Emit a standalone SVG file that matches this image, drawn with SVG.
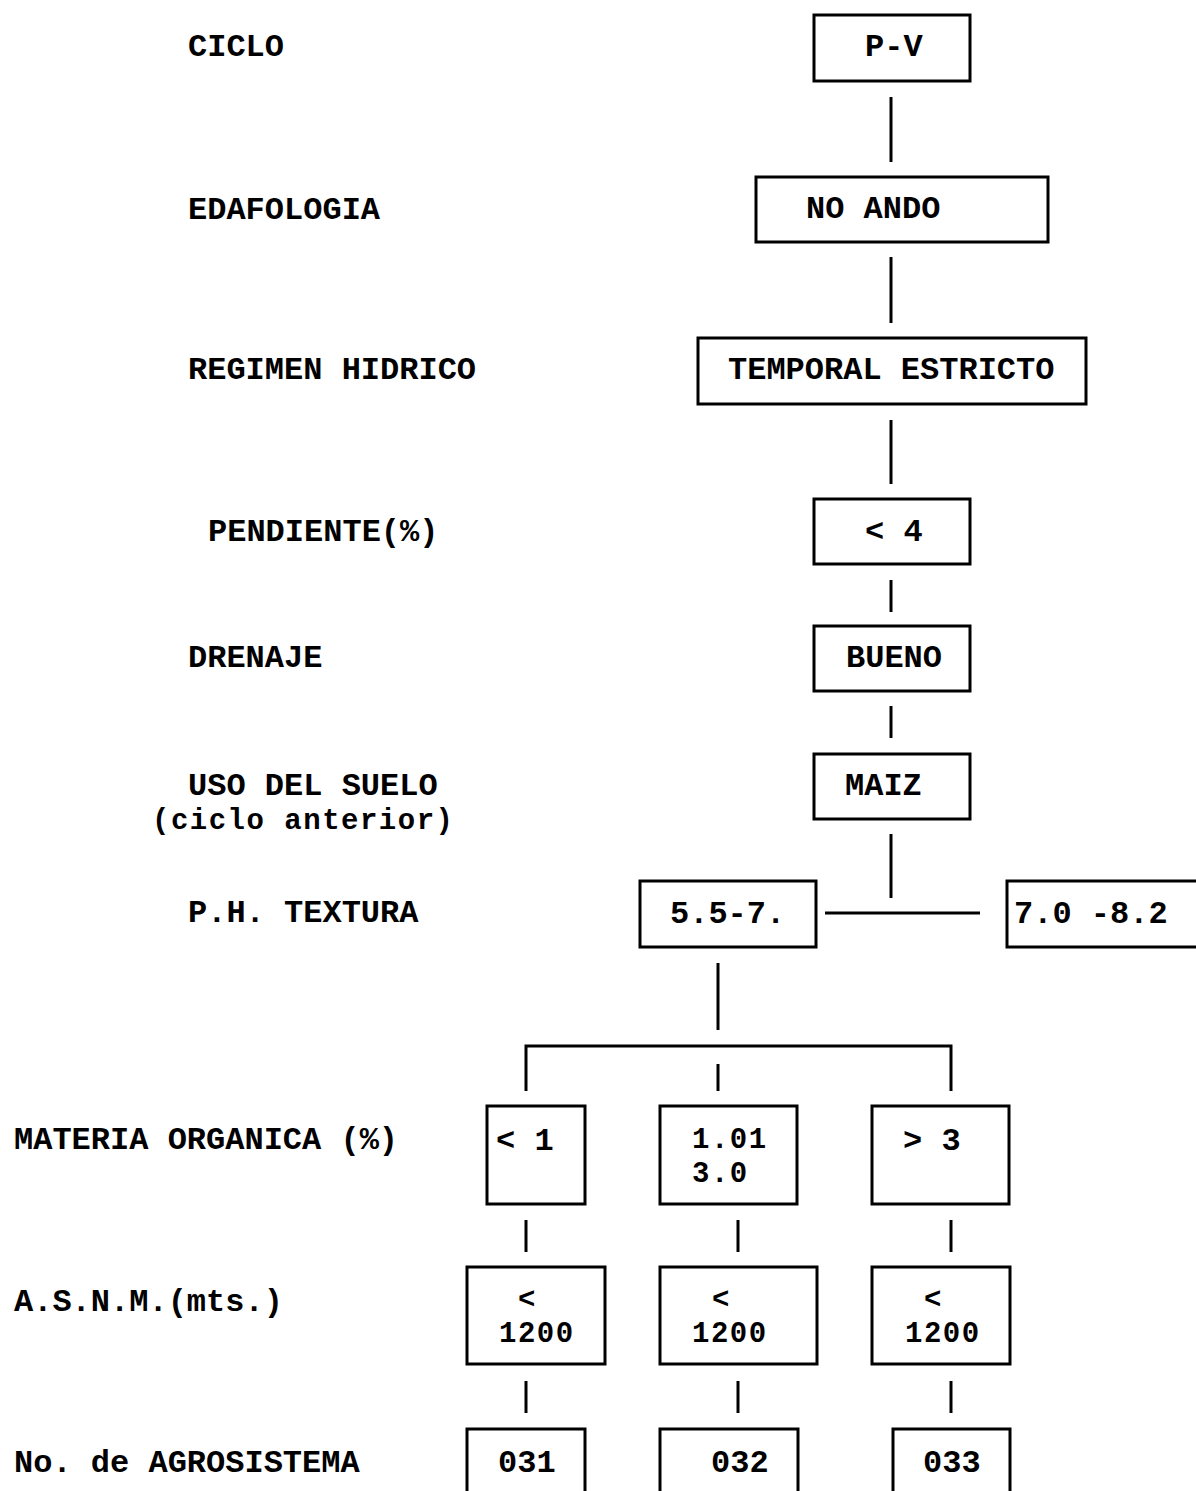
<svg xmlns="http://www.w3.org/2000/svg" width="1196" height="1491" viewBox="0 0 1196 1491">
<style>
.box{fill:none;stroke:#000;stroke-width:3}
.ln{fill:none;stroke:#000;stroke-width:3}
.t{font-family:"Liberation Mono","Courier New",monospace;font-weight:bold;font-size:32px;fill:#000}
.s{font-family:"Liberation Mono","Courier New",monospace;font-weight:bold;font-size:32px;fill:#000}
.m{font-family:"Liberation Mono","Courier New",monospace;font-weight:bold;font-size:29px;letter-spacing:1.5px;fill:#000}
</style>
<rect width="1196" height="1491" fill="#fff"/>
<g id="labels">
<text class="t" x="188" y="56">CICLO</text>
<text class="t" x="188" y="219">EDAFOLOGIA</text>
<text class="t" x="188" y="379">REGIMEN HIDRICO</text>
<text class="t" x="208" y="541">PENDIENTE(%)</text>
<text class="t" x="188" y="667">DRENAJE</text>
<text class="t" x="188" y="795">USO DEL SUELO</text>
<text class="m" x="152" y="829">(ciclo anterior)</text>
<text class="t" x="188" y="922">P.H. TEXTURA</text>
<text class="t" x="14" y="1149">MATERIA ORGANICA (%)</text>
<text class="t" x="14" y="1311">A.S.N.M.(mts.)</text>
<text class="t" x="14" y="1472">No. de AGROSISTEMA</text>
</g>
<g id="connectors">
<line class="ln" x1="891" y1="97" x2="891" y2="162"/>
<line class="ln" x1="891" y1="257" x2="891" y2="323"/>
<line class="ln" x1="891" y1="420" x2="891" y2="484"/>
<line class="ln" x1="891" y1="580" x2="891" y2="612"/>
<line class="ln" x1="891" y1="706" x2="891" y2="738"/>
<line class="ln" x1="891" y1="834" x2="891" y2="898"/>
<line class="ln" x1="825" y1="913" x2="980" y2="913"/>
<line class="ln" x1="718" y1="963" x2="718" y2="1030"/>
<path class="ln" d="M526,1091 V1046 H951 V1091"/>
<line class="ln" x1="718" y1="1064" x2="718" y2="1091"/>
<line class="ln" x1="526" y1="1220" x2="526" y2="1252"/>
<line class="ln" x1="738" y1="1220" x2="738" y2="1252"/>
<line class="ln" x1="951" y1="1220" x2="951" y2="1252"/>
<line class="ln" x1="526" y1="1381" x2="526" y2="1413"/>
<line class="ln" x1="738" y1="1381" x2="738" y2="1413"/>
<line class="ln" x1="951" y1="1381" x2="951" y2="1413"/>
</g>
<g id="n-pv"><rect class="box" x="814" y="15" width="156" height="66"/><text class="t" x="865" y="56">P-V</text></g>
<g id="n-noando"><rect class="box" x="756" y="177" width="292" height="65"/><text class="t" x="806" y="218">NO ANDO</text></g>
<g id="n-temporal"><rect class="box" x="698" y="338" width="388" height="66"/><text class="t" x="728" y="379">TEMPORAL ESTRICTO</text></g>
<g id="n-pend"><rect class="box" x="814" y="499" width="156" height="65"/><text class="t" x="865" y="541">&lt; 4</text></g>
<g id="n-bueno"><rect class="box" x="814" y="626" width="156" height="65"/><text class="t" x="846" y="667">BUENO</text></g>
<g id="n-maiz"><rect class="box" x="814" y="754" width="156" height="65"/><text class="t" x="845" y="795">MAIZ</text></g>
<g id="n-ph1"><rect class="box" x="640" y="881" width="176" height="66"/><text class="s" x="670" y="923">5.5-7.</text></g>
<g id="n-ph2"><rect class="box" x="1007" y="881" width="200" height="66"/><text class="s" x="1014" y="923">7.0 -8.2</text></g>
<g id="n-mo1"><rect class="box" x="487" y="1106" width="98" height="98"/><text class="s" x="496" y="1150">&lt; 1</text></g>
<g id="n-mo2"><rect class="box" x="660" y="1106" width="137" height="98"/><text class="m" x="692" y="1148">1.01</text><text class="m" x="692" y="1182">3.0</text></g>
<g id="n-mo3"><rect class="box" x="872" y="1106" width="137" height="98"/><text class="s" x="903" y="1150">&gt; 3</text></g>
<g id="n-as1"><rect class="box" x="467" y="1267" width="138" height="97"/><text class="m" x="518" y="1308">&lt;</text><text class="m" x="499" y="1342">1200</text></g>
<g id="n-as2"><rect class="box" x="660" y="1267" width="157" height="97"/><text class="m" x="712" y="1308">&lt;</text><text class="m" x="692" y="1342">1200</text></g>
<g id="n-as3"><rect class="box" x="872" y="1267" width="138" height="97"/><text class="m" x="924" y="1308">&lt;</text><text class="m" x="905" y="1342">1200</text></g>
<g id="n-031"><rect class="box" x="467" y="1429" width="118" height="80"/><text class="s" x="498" y="1472">031</text></g>
<g id="n-032"><rect class="box" x="660" y="1429" width="138" height="80"/><text class="s" x="711" y="1472">032</text></g>
<g id="n-033"><rect class="box" x="893" y="1429" width="117" height="80"/><text class="s" x="923" y="1472">033</text></g>
</svg>
